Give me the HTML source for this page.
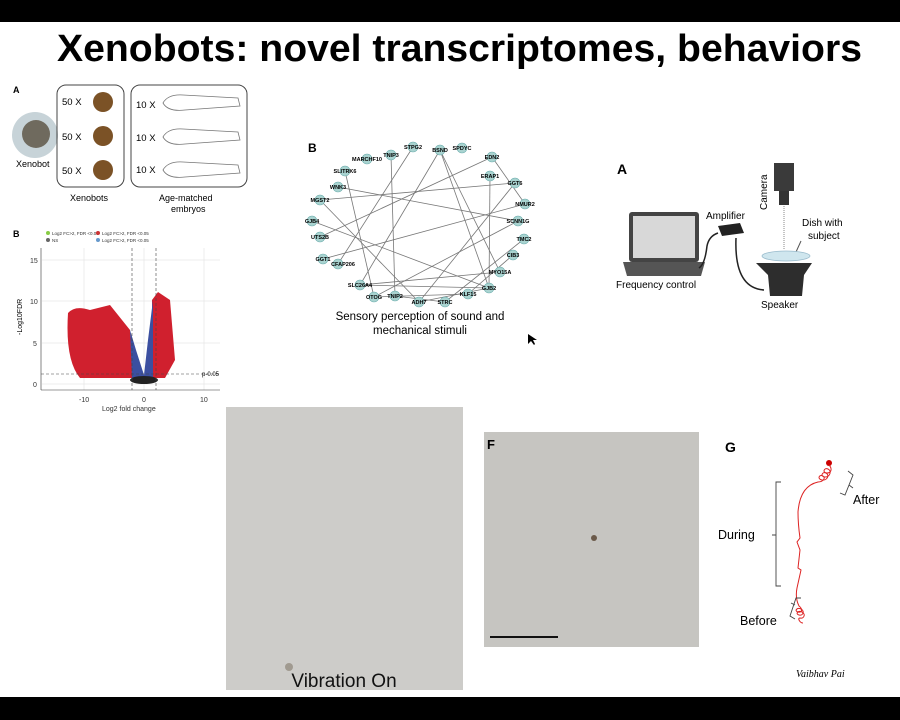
<!DOCTYPE html>
<html><head><meta charset="utf-8"><style>html,body{margin:0;padding:0;background:#fff}svg{display:block}</style></head>
<body>
<svg width="900" height="720" viewBox="0 0 900 720" xmlns="http://www.w3.org/2000/svg" font-family="Liberation Sans, sans-serif">
<rect x="0" y="0" width="900" height="720" fill="#fff"/>
<rect x="0" y="0" width="900" height="22" fill="#000"/>
<rect x="0" y="697" width="900" height="23" fill="#000"/>
<text x="57" y="61" font-size="38" font-weight="bold" textLength="805" lengthAdjust="spacingAndGlyphs">Xenobots: novel  transcriptomes, behaviors</text>

<!-- Panel A left -->
<text x="13" y="93" font-size="9" font-weight="bold">A</text>
<circle cx="35" cy="135" r="23" fill="#c7d3d8"/>
<circle cx="36" cy="134" r="14" fill="#6f6a5e"/>
<text x="16" y="167" font-size="9">Xenobot</text>
<rect x="57" y="85" width="67" height="102" rx="9" fill="none" stroke="#444" stroke-width="1"/>
<rect x="131" y="85" width="116" height="102" rx="9" fill="none" stroke="#444" stroke-width="1"/>
<g font-size="9.5">
<text x="62" y="105">50 X</text><text x="62" y="140">50 X</text><text x="62" y="174">50 X</text>
<text x="136" y="108">10 X</text><text x="136" y="141">10 X</text><text x="136" y="173">10 X</text>
</g>
<g fill="#7b5226"><circle cx="103" cy="102" r="10"/><circle cx="103" cy="136" r="10"/><circle cx="103" cy="170" r="10"/></g>
<g fill="none" stroke="#777" stroke-width="0.8">
<path d="M163 103 q5-9 20-8 l55 3 l2 8 l-55 4 q-17 2-22-7z"/>
<path d="M163 137 q5-9 20-8 l55 3 l2 8 l-55 4 q-17 2-22-7z"/>
<path d="M163 170 q5-9 20-8 l55 3 l2 8 l-55 4 q-17 2-22-7z"/>
</g>
<text x="70" y="201" font-size="9">Xenobots</text>
<text x="159" y="201" font-size="9">Age-matched</text>
<text x="171" y="212" font-size="9">embryos</text>

<!-- Volcano -->
<text x="13" y="237" font-size="9" font-weight="bold">B</text>
<g font-size="4.5" fill="#333"><circle cx="48" cy="233" r="2" fill="#8c4"/><text x="52" y="235">Log2 FC&gt;2, FDR &lt;0.05</text>
<circle cx="48" cy="240" r="2" fill="#666"/><text x="52" y="242">NS</text>
<circle cx="98" cy="233" r="2" fill="#c33"/><text x="102" y="235">Log2 FC&gt;2, FDR &lt;0.05</text>
<circle cx="98" cy="240" r="2" fill="#69c"/><text x="102" y="242">Log2 FC&gt;2, FDR &lt;0.05</text></g>
<g stroke="#e6e6e6" stroke-width="0.7">
<line x1="42" y1="260" x2="220" y2="260"/><line x1="42" y1="301" x2="220" y2="301"/><line x1="42" y1="343" x2="220" y2="343"/><line x1="42" y1="384" x2="220" y2="384"/>
<line x1="84" y1="248" x2="84" y2="390"/><line x1="144" y1="248" x2="144" y2="390"/><line x1="204" y1="248" x2="204" y2="390"/>
</g>
<line x1="41" y1="248" x2="41" y2="390" stroke="#333" stroke-width="0.6"/>
<line x1="41" y1="390" x2="220" y2="390" stroke="#333" stroke-width="0.6"/>
<g font-size="7" fill="#333"><text x="30" y="263">15</text><text x="30" y="304">10</text><text x="33" y="346">5</text><text x="33" y="387">0</text>
<text x="79" y="402">-10</text><text x="142" y="402">0</text><text x="200" y="402">10</text>
<text x="102" y="411" font-size="7">Log2 fold change</text></g>
<text x="22" y="335" font-size="7" transform="rotate(-90 22 335)">-Log10FDR</text>
<path d="M68 313 Q75 305 90 310 L110 305 L130 330 L133 378 L80 378 Q65 360 68 313z" fill="#d0202e"/>
<path d="M152 300 L158 292 L170 300 L175 360 L165 378 L152 378z" fill="#d0202e"/>
<path d="M130 330 L136 350 L144 375 L148 340 L153 300 L153 378 L132 378z" fill="#3b4fa0"/>
<ellipse cx="144" cy="380" rx="14" ry="4" fill="#222"/>
<g stroke="#444" stroke-width="0.6" stroke-dasharray="3,2"><line x1="132" y1="248" x2="132" y2="390"/><line x1="156" y1="248" x2="156" y2="390"/><line x1="41" y1="374" x2="220" y2="374"/></g>
<text x="202" y="376" font-size="6">p-0.05</text>

<!-- Network -->
<text x="308" y="152" font-size="12" font-weight="bold">B</text>
<g stroke="#777" stroke-width="0.8">
<line x1="413" y1="147" x2="338" y2="264"/><line x1="440" y1="150" x2="360" y2="285"/><line x1="440" y1="150" x2="489" y2="288"/><line x1="440" y1="150" x2="500" y2="272"/>
<line x1="391" y1="155" x2="395" y2="296"/><line x1="492" y1="157" x2="320" y2="237"/><line x1="492" y1="157" x2="525" y2="204"/>
<line x1="345" y1="171" x2="374" y2="297"/><line x1="490" y1="176" x2="489" y2="288"/><line x1="338" y1="187" x2="518" y2="221"/>
<line x1="515" y1="183" x2="320" y2="200"/><line x1="515" y1="183" x2="419" y2="302"/><line x1="320" y1="200" x2="419" y2="302"/>
<line x1="525" y1="204" x2="323" y2="259"/><line x1="312" y1="221" x2="489" y2="288"/><line x1="518" y1="221" x2="374" y2="297"/>
<line x1="524" y1="239" x2="445" y2="302"/><line x1="513" y1="255" x2="468" y2="294"/><line x1="500" y1="272" x2="360" y2="285"/>
<line x1="489" y1="288" x2="360" y2="285"/><line x1="468" y1="294" x2="374" y2="297"/><line x1="445" y1="302" x2="395" y2="296"/><line x1="489" y1="288" x2="419" y2="302"/>
</g>
<g fill="#a9d3d0" stroke="#6aa" stroke-width="0.6">
<circle cx="413" cy="147" r="5"/><circle cx="440" cy="150" r="5"/><circle cx="462" cy="148" r="5"/><circle cx="391" cy="155" r="5"/><circle cx="367" cy="159" r="5"/><circle cx="492" cy="157" r="5"/><circle cx="345" cy="171" r="5"/><circle cx="490" cy="176" r="5"/><circle cx="338" cy="187" r="5"/><circle cx="515" cy="183" r="5"/><circle cx="320" cy="200" r="5"/><circle cx="525" cy="204" r="5"/><circle cx="312" cy="221" r="5"/><circle cx="518" cy="221" r="5"/><circle cx="320" cy="237" r="5"/><circle cx="524" cy="239" r="5"/><circle cx="323" cy="259" r="5"/><circle cx="513" cy="255" r="5"/><circle cx="338" cy="264" r="5"/><circle cx="500" cy="272" r="5"/><circle cx="360" cy="285" r="5"/><circle cx="489" cy="288" r="5"/><circle cx="374" cy="297" r="5"/><circle cx="395" cy="296" r="5"/><circle cx="468" cy="294" r="5"/><circle cx="419" cy="302" r="5"/><circle cx="445" cy="302" r="5"/>
</g>
<g font-size="5.5" font-weight="bold" text-anchor="middle">
<text x="413" y="149">STPG2</text><text x="440" y="152">BSND</text><text x="462" y="150">SPDYC</text><text x="391" y="157">TNIP3</text><text x="367" y="161">MARCHF10</text><text x="492" y="159">EDN2</text><text x="345" y="173">SLITRK6</text><text x="490" y="178">ERAP1</text><text x="338" y="189">WNK3</text><text x="515" y="185">GGT6</text><text x="320" y="202">MGST2</text><text x="525" y="206">NMUR2</text><text x="312" y="223">GJB4</text><text x="518" y="223">SCNN1G</text><text x="320" y="239">UTS2B</text><text x="524" y="241">TMC2</text><text x="323" y="261">GGT1</text><text x="513" y="257">CIB3</text><text x="343" y="266">CFAP206</text><text x="500" y="274">MYO15A</text><text x="360" y="287">SLC26A4</text><text x="489" y="290">GJB2</text><text x="374" y="299">OTOG</text><text x="395" y="298">TNIP2</text><text x="468" y="296">KLF15</text><text x="419" y="304">ADH7</text><text x="445" y="304">STRC</text>
</g>
<text x="420" y="320" font-size="11.5" text-anchor="middle">Sensory perception of sound and</text>
<text x="420" y="334" font-size="11.5" text-anchor="middle">mechanical stimuli</text>
<path d="M528 334 l0 10 l3-3 l3 4 l1-1 l-2-4 l4 0z" fill="#000"/>

<!-- Setup A -->
<text x="617" y="174" font-size="14" font-weight="bold">A</text>
<rect x="629" y="212" width="70" height="50" rx="3" fill="#444"/>
<rect x="633" y="216" width="62" height="42" fill="#d8d8d8"/>
<path d="M623 262 L705 262 L701 276 L627 276z" fill="#555"/>
<text x="616" y="288" font-size="10">Frequency control</text>
<text x="706" y="219" font-size="10">Amplifier</text>
<path d="M718 226 l22-3 l4 10 l-22 3z" fill="#222"/>
<path d="M699 268 q6-4 8-22 q2-10 11-13" fill="none" stroke="#222" stroke-width="1.5"/>
<path d="M736 238 q-2 50 28 52" fill="none" stroke="#222" stroke-width="1.5"/>
<rect x="774" y="163" width="20" height="28" fill="#3a3a3a"/>
<rect x="779" y="191" width="10" height="14" fill="#333"/>
<text x="767" y="210" font-size="10" transform="rotate(-90 767 210)">Camera</text>
<line x1="784" y1="206" x2="784" y2="250" stroke="#888" stroke-dasharray="1,1"/>
<text x="802" y="226" font-size="10">Dish with</text>
<text x="808" y="239" font-size="10">subject</text>
<line x1="801" y1="241" x2="796" y2="252" stroke="#555"/>
<ellipse cx="786" cy="256" rx="24" ry="5" fill="#cfe6ee" stroke="#9bc" stroke-width="0.8"/>
<path d="M756 263 L812 263 L804 275 L802 296 L770 296 L768 275z" fill="#2d2d2d"/>
<text x="761" y="308" font-size="10">Speaker</text>

<!-- E / F -->
<rect x="226" y="407" width="237" height="283" fill="#cdccc9"/>
<text x="344" y="687" font-size="19" text-anchor="middle" fill="#111">Vibration On</text>
<circle cx="289" cy="667" r="4" fill="#a09a90"/>
<rect x="484" y="432" width="215" height="215" fill="#c6c5c1"/>
<text x="487" y="449" font-size="13" font-weight="bold">F</text>
<circle cx="594" cy="538" r="3" fill="#6b5a4a"/>
<line x1="490" y1="637" x2="558" y2="637" stroke="#111" stroke-width="2"/>

<!-- G -->
<text x="725" y="452" font-size="14" font-weight="bold">G</text>
<circle cx="829" cy="463" r="3" fill="#c00"/>
<g fill="none" stroke="#d22" stroke-width="1">
<path d="M829 465 c3 3 3 8 -2 8 c-5 0 -3 -6 1 -4 c4 2 2 8 -3 8 c-5 0 -3-6 1-4 c4 2 1 8-4 7 c-5-1-3-6 1-4 c3 2 0 6 -5 6 q-18 4 -20 30 q0 12 2 26 l-3 4 l3 8 l-2 18 l3 2 l-4 18 q-2 10 2 18 c4 3 3 7 -1 6 c-4-1 -1-5 3-3 c4 2 2 7 -2 6 c-4-1-1-5 3-3 c4 2 2 7-2 6 c-3 0 0 5 3 5"/>
</g>
<g fill="none" stroke="#444" stroke-width="0.9">
<path d="M781 482 l-5 0 l0 104 l5 0 M776 535 l-4 0"/>
<path d="M848 471 l5 4 l-8 20 l-5-2 M849 485 l4 3"/>
<path d="M801 598 l-5 0 l-6 18 l5 3 M795 605 l-4 -2"/>
</g>
<text x="718" y="539" font-size="12.5">During</text>
<text x="853" y="504" font-size="12.5">After</text>
<text x="740" y="625" font-size="12.5">Before</text>
<text x="796" y="677" font-size="10" font-style="italic" font-family="Liberation Serif, serif">Vaibhav Pai</text>
</svg>
</body></html>
